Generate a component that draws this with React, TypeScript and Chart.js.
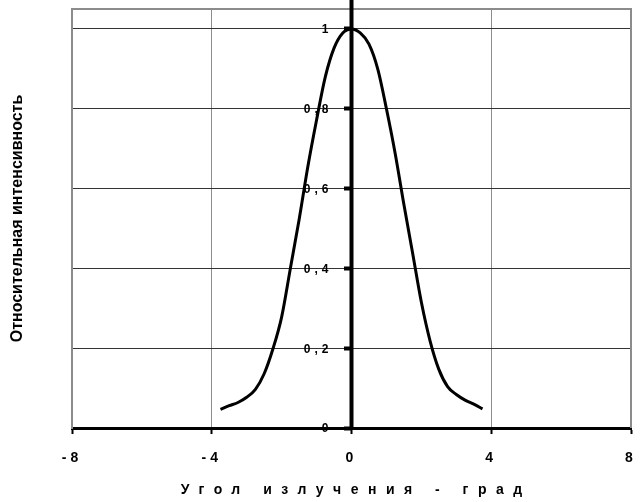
import { useEffect, useRef } from 'react';
import { Chart, registerables } from 'chart.js';

Chart.register(...registerables);

// Angle (deg) and relative intensity
const angles = [
  -3.75, -3.5, -3.25, -3, -2.75, -2.5, -2.25, -2, -1.75, -1.5, -1.25, -1, -0.75, -0.5, -0.25,
  0, 0.25, 0.5, 0.75, 1, 1.25, 1.5, 1.75, 2, 2.25, 2.5, 2.75, 3, 3.25, 3.5, 3.75,
];
const intensity = [
  0.047, 0.056, 0.064, 0.077, 0.097, 0.136, 0.198, 0.278, 0.4, 0.522, 0.655, 0.772, 0.88, 0.952, 0.99,
  1.0, 0.99, 0.962, 0.9, 0.8, 0.688, 0.56, 0.438, 0.315, 0.218, 0.147, 0.104, 0.084, 0.07, 0.06, 0.048,
];
const xTicks = [-8, -4, 0, 4, 8];
const yTicks = [0, 0.2, 0.4, 0.6, 0.8, 1];
const yTickLabels = ['0', '0,2', '0,4', '0,6', '0,8', '1'];
const xTitle = 'Угол излучения - град';
const yTitle = 'Относительная интенсивность';

const FONT = '"Liberation Sans", Arial, sans-serif';

const decor = {
  id: 'decor',
  beforeDraw(chart: any) {
    (chart.ctx as any).letterSpacing = '4px';
  },
  afterDraw(chart: any) {
    const { ctx, chartArea: a, scales } = chart;
    ctx.save();
    // top & right plot border
    ctx.strokeStyle = '#8c8c8c';
    ctx.lineWidth = 2;
    ctx.beginPath();
    ctx.moveTo(a.left, a.top);
    ctx.lineTo(a.right, a.top);
    ctx.lineTo(a.right, a.bottom);
    ctx.stroke();
    // thick vertical axis at x = 0
    const x0 = scales.x.getPixelForValue(0);
    ctx.strokeStyle = '#000';
    ctx.lineWidth = 4;
    ctx.beginPath();
    ctx.moveTo(x0, 0);
    ctx.lineTo(x0, a.bottom);
    ctx.stroke();
    // y tick labels next to the x = 0 axis
    ctx.fillStyle = '#000';
    ctx.font = `bold 12px ${FONT}`;
    (ctx as any).letterSpacing = '4px';
    ctx.textAlign = 'right';
    ctx.textBaseline = 'middle';
    yTicks.forEach((v, i) => {
      ctx.fillText(yTickLabels[i], x0 - 19, scales.y.getPixelForValue(v) + 1);
    });
    // x title
    ctx.font = `bold 14px ${FONT}`;
    (ctx as any).letterSpacing = '9.5px';
    ctx.textAlign = 'center';
    ctx.fillText(xTitle, (a.left + a.right) / 2 + 4.75, 490);
    // y title
    (ctx as any).letterSpacing = '0px';
    ctx.font = `bold 16px ${FONT}`;
    ctx.translate(18, (a.top + a.bottom) / 2);
    ctx.rotate(-Math.PI / 2);
    ctx.fillText(yTitle, 0, 0);
    ctx.restore();
  },
};

export default function App() {
  const ref = useRef<HTMLCanvasElement | null>(null);
  useEffect(() => {
    if (!ref.current) return;
    const chart = new Chart(ref.current, {
      type: 'line',
      data: {
        datasets: [
          {
            data: angles.map((a, i) => ({ x: a, y: intensity[i] })),
            borderColor: '#000',
            borderWidth: 3,
            pointRadius: 0,
            fill: false,
            cubicInterpolationMode: 'monotone',
          },
        ],
      },
      options: {
        animation: false,
        responsive: false,
        layout: { padding: { left: 72, right: 12, top: 9, bottom: 20 } },
        plugins: { legend: { display: false }, tooltip: { enabled: false } },
        scales: {
          x: {
            type: 'linear',
            min: -8,
            max: 8,
            afterBuildTicks: (s: any) => {
              s.ticks = xTicks.map((v) => ({ value: v }));
            },
            ticks: {
              color: '#000',
              font: { family: FONT, size: 14, weight: 'bold', lineHeight: 3.14 },
              padding: 2,
              maxRotation: 0,
            },
            grid: {
              color: '#8c8c8c',
              lineWidth: 1,
              tickColor: '#000',
              tickLength: 6,
              tickWidth: 2,
            },
            border: { display: true, color: '#000', width: 3 },
          },
          y: {
            type: 'linear',
            min: 0,
            max: 1.05,
            position: 'left',
            afterBuildTicks: (s: any) => {
              s.ticks = yTicks.map((v) => ({ value: v }));
            },
            ticks: { display: false },
            grid: { color: '#333', lineWidth: 1, drawTicks: false },
            border: { display: true, color: '#8c8c8c', width: 2 },
          },
          y2: {
            type: 'linear',
            axis: 'y',
            min: 0,
            max: 1.05,
            position: { x: 0 } as any,
            afterBuildTicks: (s: any) => {
              s.ticks = yTicks.map((v) => ({ value: v }));
            },
            ticks: { display: false },
            grid: {
              display: true,
              drawOnChartArea: false,
              drawTicks: true,
              tickLength: 8,
              tickWidth: 4,
              tickColor: '#000',
            },
            border: { display: false },
          },
        },
      },
      plugins: [decor],
    } as any);
    return () => chart.destroy();
  }, []);
  return (
    <div style={{ position: 'absolute', left: 0, top: 0, width: 643, height: 502, background: '#fff' }}>
      <canvas ref={ref} width={643} height={502} style={{ display: 'block' }} />
    </div>
  );
}
